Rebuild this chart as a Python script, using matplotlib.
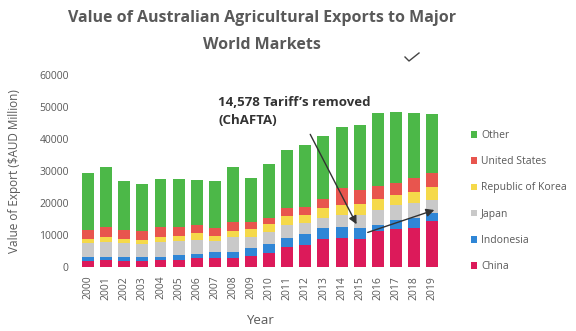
#!/usr/bin/env python3
"""
Stacked bar chart of Australian agricultural export values by destination, 2000-2019.
"""

import matplotlib.pyplot as plt
from matplotlib.lines import Line2D

plt.rcParams["font.family"] = ["Open Sans", "DejaVu Sans"]

TEXT_GREY = "#595959"

years = [str(y) for y in range(2000, 2020)]

# $AUD million per destination, bottom of the stack first
china = [2000, 2300, 2000, 2000, 2300, 2400, 2800, 3100, 3000, 3700,
         4400, 6500, 7000, 8800, 9100, 8800, 11500, 11900, 12200, 14578]
indonesia = [1200, 1100, 1200, 1200, 1100, 1400, 1400, 1600, 1900, 2300,
             2800, 2600, 3300, 3400, 3400, 3500, 1700, 2900, 3100, 2300]
japan = [4400, 4600, 4300, 4200, 4600, 4500, 4300, 3700, 4600, 3500,
         3800, 4200, 3600, 3100, 3800, 4000, 4700, 4700, 4700, 4300]
korea = [1400, 1600, 1400, 1300, 1600, 1600, 2100, 1500, 1900, 2500,
         2400, 2700, 2600, 3100, 3200, 3500, 3600, 3100, 3600, 3800]
united_states = [2800, 3100, 2800, 2800, 3100, 2700, 2700, 2400, 2900, 2300,
                 2000, 2400, 2500, 2800, 5200, 4300, 3900, 3600, 4200, 4500]
other = [17700, 18700, 15200, 14600, 14800, 14900, 13900, 14600, 17000, 13700,
         16800, 18100, 19100, 19800, 19100, 20300, 22900, 22400, 20500, 18500]

series_names = ["China", "Indonesia", "Japan", "Republic of Korea", "United States", "Other"]
series_colors = ["#dc1a5a", "#2f86d6", "#c9c9c9", "#f5d94a", "#e8554e", "#4cb848"]

y_ticks = [0, 10000, 20000, 30000, 40000, 50000, 60000]


def main():
    fig = plt.figure(figsize=(5.76, 3.31), dpi=100)
    ax = fig.add_axes([0.134, 0.192, 0.635, 0.581])

    x = list(range(len(years)))
    bottom = [0] * len(years)
    handles = []
    for name, vals, color in zip(series_names,
                                 [china, indonesia, japan, korea, united_states, other],
                                 series_colors):
        bars = ax.bar(x, vals, bottom=bottom, width=0.66, color=color, label=name, lw=0)
        handles.append(bars)
        bottom = [b + v for b, v in zip(bottom, vals)]

    ax.set_xlim(-0.6, len(years) - 0.4)
    ax.set_ylim(0, 60000)
    ax.set_yticks(y_ticks)
    ax.set_yticklabels([str(t) for t in y_ticks], fontsize=7.5, color=TEXT_GREY)
    ax.set_xticks(x)
    ax.set_xticklabels(years, rotation=90, fontsize=7.5, color=TEXT_GREY)
    ax.tick_params(length=0, pad=6)
    for s in ax.spines.values():
        s.set_visible(False)

    ax.set_ylabel("Value of Export ($AUD Million)", fontsize=8.5, color=TEXT_GREY, labelpad=13)
    ax.set_xlabel("Year", fontsize=9.5, color=TEXT_GREY, labelpad=10)

    # two-line title, each line placed on its own
    fig.text(0.455, 1 - 18 / 331, "Value of Australian Agricultural Exports to Major",
             ha="center", va="center", fontsize=11.5, fontweight="bold", color=TEXT_GREY)
    fig.text(0.455, 1 - 45 / 331, "World Markets",
             ha="center", va="center", fontsize=11.5, fontweight="bold", color=TEXT_GREY)

    # ChAFTA annotation with arrows
    ax.text(7.2, 48600, "14,578 Tariff\u2019s removed\n(ChAFTA)", fontsize=9.5,
            fontweight="bold", color="#333333", va="center", ha="left", linespacing=1.55)
    ax.annotate("", xy=(14.9, 12700), xytext=(12.2, 42300),
                arrowprops=dict(arrowstyle="-|>", color="#333333", lw=1.0, mutation_scale=12))
    ax.annotate("", xy=(19.27, 18200), xytext=(15.3, 10650),
                arrowprops=dict(arrowstyle="-|>", color="#333333", lw=1.0, mutation_scale=12))

    # hand-drawn tick next to the title
    fig.add_artist(Line2D([405 / 576, 409 / 576, 419 / 576],
                          [1 - 57 / 331, 1 - 61 / 331, 1 - 53 / 331],
                          transform=fig.transFigure, color="#444444", lw=1.0))

    ax.legend(handles[::-1], series_names[::-1], loc="center left",
              bbox_to_anchor=(1.05, 0.345), frameon=False, fontsize=7.5,
              handlelength=0.6, handleheight=0.6, handletextpad=0.4,
              labelspacing=1.46, labelcolor=TEXT_GREY)

    fig.savefig("out.png", dpi=100)


if __name__ == "__main__":
    main()
